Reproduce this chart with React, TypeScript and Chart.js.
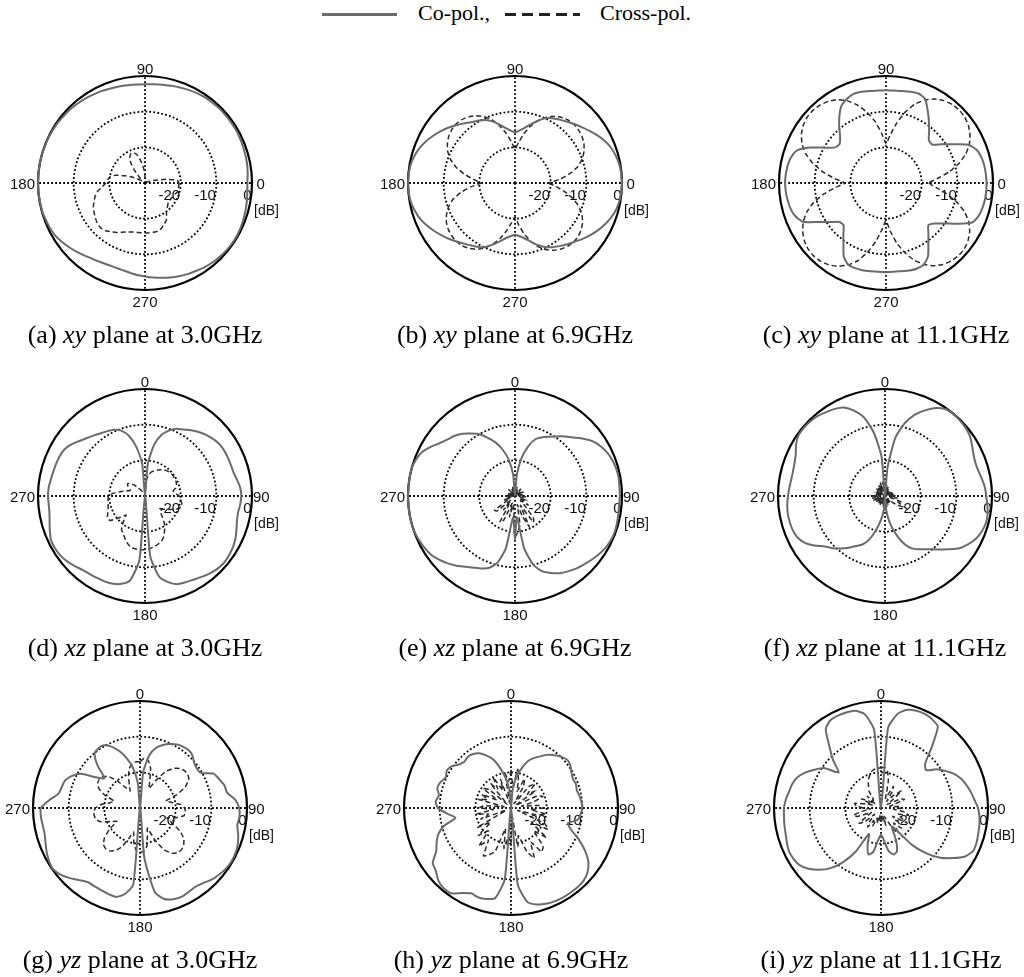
import React, { useEffect, useRef } from "react";
import { Chart, registerables } from "chart.js";

Chart.register(...registerables);

// ---------- categories (angle in degrees, 5 degree steps) ----------
const ANGLES_DEG = [
  0, 5, 10, 15, 20, 25, 30, 35, 40, 45, 50, 55,
  60, 65, 70, 75, 80, 85, 90, 95, 100, 105, 110, 115,
  120, 125, 130, 135, 140, 145, 150, 155, 160, 165, 170, 175,
  180, 185, 190, 195, 200, 205, 210, 215, 220, 225, 230, 235,
  240, 245, 250, 255, 260, 265, 270, 275, 280, 285, 290, 295,
  300, 305, 310, 315, 320, 325, 330, 335, 340, 345, 350, 355,
];

const DB_TICKS = [-20, -10, 0];

// ---------- (a) xy plane 3.0 GHz ----------
const A_CO = [
  -1.3, -1.1, -0.9, -0.8, -0.7, -0.6, -0.5, -0.5, -0.5, -0.5, -0.6, -0.7,
  -0.9, -1.2, -1.5, -1.8, -2.0, -2.2, -2.3, -2.3, -2.2, -2.0, -1.8, -1.5,
  -1.3, -1.0, -0.8, -0.6, -0.5, -0.3, -0.2, -0.1, -0.1, 0, 0, 0,
  0, 0, -0.1, -0.1, -0.3, -0.5, -0.8, -1.4, -2.1, -2.8, -3.5, -4.1,
  -4.5, -4.8, -4.9, -4.8, -4.5, -4.1, -3.8, -3.4, -3.0, -2.6, -2.2, -1.8,
  -1.5, -1.1, -0.8, -0.6, -0.4, -0.3, -0.3, -0.4, -0.6, -0.8, -1.0, -1.2,
];
const A_CX = [
  -20.5, -21, -24, -27, -28.5, -29.5, -29.5, -29.5, -29.5, -29.5, -29.5, -29.5,
  -29.5, -29.5, -29.5, -29.5, -29.5, -29, -28, -26, -24, -22, -21, -20.8,
  -21.5, -23, -25.5, -28, -29, -29, -28, -26, -24, -21.5, -20, -19.5,
  -19, -18, -16.5, -15.5, -14.8, -14, -13.5, -13, -12.5, -12.3, -12.6, -13.3,
  -14, -14.8, -15.4, -15.8, -16, -16, -16, -16, -16, -16, -16.5, -17.3,
  -18, -19.5, -20.5, -21, -21.5, -21.5, -21.5, -21, -21, -20.5, -20.5, -20.5,
];

// ---------- (b) xy plane 6.9 GHz ----------
const B_CO = [
  0, -0.1, -0.3, -0.7, -1.3, -2.2, -3.3, -4.5, -5.6, -6.6, -7.5, -8.3,
  -9.0, -10.0, -11.5, -13.0, -14.3, -15.2, -15.8, -15.2, -14.3, -13.0, -11.6, -10.5,
  -9.8, -9.1, -8.1, -7.0, -5.8, -4.6, -3.5, -2.4, -1.5, -0.8, -0.3, -0.1,
  0, -0.1, -0.3, -0.8, -1.5, -2.4, -3.5, -4.6, -5.7, -6.8, -7.8, -8.6,
  -9.3, -10.2, -11.6, -13.0, -14.2, -15.0, -15.5, -15.0, -14.2, -13.0, -11.5, -10.2,
  -9.2, -8.4, -7.5, -6.6, -5.5, -4.4, -3.3, -2.3, -1.4, -0.7, -0.3, -0.1,
];
const B_CX = [
  -20.5, -17.2, -14.2, -11.6, -9.9, -8.6, -7.7, -7.1, -6.8, -6.7, -6.9, -7.5,
  -8.4, -9.7, -11.4, -13.6, -16.1, -18.6, -20.5, -18.4, -15.9, -13.4, -11.2, -9.5,
  -8.2, -7.3, -6.8, -6.6, -6.8, -7.3, -8.1, -9.2, -10.8, -12.9, -15.5, -18.3,
  -20.5, -17.5, -14.5, -11.9, -10.1, -8.8, -7.8, -7.2, -6.9, -6.8, -7.0, -7.6,
  -8.5, -9.9, -11.7, -13.9, -16.4, -18.8, -20.5, -18.2, -15.6, -13.1, -11.0, -9.4,
  -8.2, -7.4, -6.9, -6.7, -6.8, -7.3, -8.1, -9.3, -11.0, -13.2, -15.8, -18.4,
];

// ---------- (c) xy plane 11.1 GHz ----------
const C_CO = [
  -1.8, -1.9, -2.0, -2.3, -2.9, -4.6, -8.3, -11.1, -13.2, -13.0, -11.2, -9.0,
  -6.6, -4.0, -3.3, -3.5, -3.8, -4.0, -4.0, -4.0, -3.8, -3.5, -3.4, -4.0,
  -5.0, -7.2, -9.6, -11.8, -13.0, -12.6, -10.2, -6.5, -3.4, -2.4, -2.0, -1.8,
  -1.7, -1.8, -2.0, -2.3, -2.9, -4.3, -8.1, -10.9, -13.0, -13.2, -11.4, -9.2,
  -6.3, -4.8, -4.6, -4.7, -4.9, -5.0, -5.0, -5.0, -4.9, -4.6, -4.5, -4.8,
  -6.4, -9.3, -11.5, -13.2, -12.3, -10.2, -7.2, -3.6, -2.5, -2.1, -1.9, -1.8,
];
const C_CX = [
  -18, -15.5, -12, -8.8, -6.2, -4.2, -2.8, -1.8, -1.2, -1.0, -1.2, -1.8, -2.8, -4.3, -6.5, -9.5, -13, -16.5,
  -19, -16, -12.5, -9.5, -6.8, -4.6, -3.0, -2.0, -1.4, -1.1, -1.2, -1.7, -2.6, -4.0, -6.0, -8.8, -12, -15.5,
  -18.5, -15.8, -12.3, -9.0, -6.4, -4.4, -3.0, -2.0, -1.4, -1.2, -1.4, -2.0, -3.0, -4.6, -6.8, -9.8, -13.3, -16.8,
  -19.5, -16.5, -13, -9.8, -7.0, -4.8, -3.2, -2.1, -1.5, -1.2, -1.3, -1.9, -2.9, -4.4, -6.6, -9.5, -12.8, -16,
];

// ---------- (d) xz plane 3.0 GHz ----------
const D_CO = [
  -30, -21, -15.5, -12.3, -10.5, -9.2, -8.5, -7.5, -6.6, -5.8, -5.1, -4.6,
  -4.4, -4.4, -4.4, -4.3, -3.8, -3.2, -3.0, -3.2, -3.5, -3.3, -2.7, -2.0,
  -1.5, -1.2, -1.0, -1.2, -1.7, -2.3, -2.9, -3.3, -3.7, -5, -7, -13,
  -30, -12, -6, -4.5, -3.8, -3.5, -3.4, -3.2, -2.9, -2.2, -1.5, -1.0,
  -0.8, -0.9, -1.6, -2.3, -2.8, -2.9, -2.8, -2.9, -3.2, -3.4, -3.5, -3.6,
  -3.9, -4.8, -6.0, -7.0, -7.8, -8.5, -9.0, -9.5, -10.5, -12.5, -16, -21,
];
const D_CX = [
  -28, -25.5, -24, -23, -22.5, -22, -21.5, -21, -20.7, -20.4, -20.3, -20.3,
  -20.4, -20.4, -20.6, -21, -22, -21.5, -20.3, -20, -19.6, -19.3, -19.8, -21,
  -22.5, -23.5, -24, -24, -22.5, -20.5, -19, -17.5, -16.5, -16, -15.5, -15.2,
  -15, -14.9, -14.9, -15, -15.8, -16.8, -17.8, -18.5, -20.5, -22.5, -20.5, -18,
  -17.8, -18.5, -19, -19.3, -19.5, -19.6, -19.8, -21, -23, -24.5, -25.5, -25.5,
  -24.5, -24, -24.5, -25.5, -27, -28, -28.5, -28.5, -28.5, -28.5, -28.5, -28.5,
];

// ---------- (e) xz plane 6.9 GHz ----------
const E_CO = [
  -30, -24, -19, -15.5, -13, -11.8, -10.8, -9.6, -8.2, -6.8, -5, -3.3,
  -2.2, -1.4, -0.9, -0.6, -0.5, -0.6, -0.6, -0.7, -0.6, -0.4, -0.3, -0.4,
  -0.8, -1.4, -2.1, -2.8, -3.4, -4.2, -5.0, -6.2, -7.5, -10, -15, -24,
  -17.5, -24, -15, -10.5, -8.5, -7.6, -6.8, -5.8, -4.5, -3.3, -2.2, -1.3,
  -0.8, -0.4, -0.1, 0, 0, 0, 0, 0, 0, 0, -0.4, -1.1,
  -2.6, -4.2, -5.3, -6.1, -7.2, -8.6, -10, -12, -14, -16.5, -19.5, -24,
];
const E_CX = [
  -28, -29.5, -28.5, -27.5, -29, -28, -29.5, -28.5, -27.5, -29, -28.5, -29.5,
  -28, -27.5, -29, -28.5, -27.5, -29, -28, -27, -28.5, -27.5, -26.5, -28.5,
  -27, -25.5, -28, -26, -22, -21, -27, -20.5, -24, -27.5, -22, -20,
  -18.5, -26, -27.5, -24, -28, -22.5, -21.5, -27, -25, -28.5, -23.5, -23,
  -27.5, -28.5, -26.5, -29, -28, -29.5, -27.5, -28.5, -29.5, -28, -27.5, -29,
  -28.5, -29.5, -28, -27.5, -29, -28.5, -29.5, -28, -29, -27.5, -28.5, -29.5,
];

// ---------- (f) xz plane 11.1 GHz ----------
const F_CO = [
  -30, -22, -13.5, -9, -5.8, -3.5, -1.5, -0.3, -0.1, -0.2, -0.4, -0.9,
  -1.8, -2.6, -3.0, -2.9, -2.4, -1.9, -1.6, -1.2, -0.8, -0.7, -1.1, -1.8,
  -3.0, -4.5, -6.8, -8.8, -10.5, -11.8, -12.8, -14.2, -16.5, -19.5, -22.5, -26,
  -30, -26, -23, -20, -17, -15, -13.8, -12.3, -10.8, -9.3, -8, -5.8,
  -3.9, -2.8, -2.4, -2.3, -2.3, -2.5, -2.8, -3.1, -3.3, -3.3, -3.0, -2.4,
  -1.2, -0.4, -0.3, -0.4, -0.7, -1.3, -1.8, -2.6, -4.5, -7.2, -12, -19,
];
const F_CX = [
  -26.5, -29, -27, -29.5, -27.5, -29.5, -28, -29.5, -28, -29.5, -28.5, -29.5,
  -28, -29.5, -27.5, -29, -27.5, -29, -27, -28.5, -26.5, -28.5, -25, -26,
  -23, -25.5, -27, -29, -27.5, -29.5, -28, -29, -27.5, -29, -27, -28.5,
  -26, -29, -27, -29, -27.5, -29.5, -27, -29, -27.5, -29.5, -27.5, -29,
  -27, -29, -26.5, -28.5, -26.5, -28, -26, -28.5, -27, -29, -27, -29,
  -27.5, -29.5, -27, -29, -27, -29, -26.5, -28.5, -26, -28.5, -26, -28.5,
];

// ---------- (g) yz plane 3.0 GHz ----------
const G_CO = [
  -30, -20, -15, -12.5, -11.2, -10.2, -9.4, -9.0, -8.8, -9.2, -10.2, -10.6,
  -10.3, -7.2, -6.4, -5.5, -5.2, -3.2, -2.2, -2.0, -2.3, -1.5, -0.8, -0.4,
  -0.3, -0.5, -1.0, -1.6, -2.5, -3.0, -2.8, -2.5, -2.8, -3.6, -6, -16,
  -30, -8.5, -5.5, -4.2, -4.3, -4.5, -4.6, -4.6, -3.6, -2.2, -0.9, -0.2,
  -0.5, -1.1, -1.8, -2.3, -2.3, -2.1, -2.2, -4.5, -6.8, -7.3, -7.6, -8.8,
  -10.8, -15, -17, -13.2, -10.2, -9.6, -9.7, -11, -13, -15.5, -18.5, -23,
];
const G_CX = [
  -17, -16, -16.5, -18.5, -22, -24, -21, -17.5, -15.5, -14.3, -13.7, -13.6,
  -14.2, -16, -19, -22.5, -21, -18.5, -17.5, -17.2, -17.5, -19.5, -22, -20,
  -17, -15, -14, -13.5, -13.6, -14.5, -16.5, -20, -24, -22, -19, -17.8,
  -17.5, -18, -20, -23, -21, -18, -16.2, -15.3, -15.1, -15.5, -17, -19.5,
  -22.5, -21, -18.5, -17.3, -17, -17, -17.5, -19, -21.5, -22.5, -19.5, -17.3,
  -16.3, -16, -16.3, -17.5, -20, -23, -24.5, -23, -20.5, -18.5, -17.5, -17,
];

// ---------- (h) yz plane 6.9 GHz ----------
const H_CO = [
  -30, -25, -21, -18.5, -16, -14.5, -13.2, -11.8, -10.7, -9.8, -9.2, -9.6,
  -10.4, -10.8, -10.6, -10.9, -10.5, -10.2, -10.0, -10.4, -11.0, -13.5, -12.0, -9.0,
  -6.0, -3.5, -2.0, -1.2, -1.0, -1.0, -1.0, -1.1, -1.4, -2.0, -3.2, -8.5,
  -30, -10, -4.3, -3.6, -3.3, -3.6, -2.5, -0.8, -0.6, -1.2, -2.5, -3.2,
  -5.8, -7, -8.3, -10.5, -14.2, -12, -9.5, -8.8, -9.5, -8.6, -8.9, -9.8,
  -9.2, -9.6, -11, -11.6, -11.2, -11.5, -12.3, -13.8, -15.5, -18.5, -21.5, -25,
];
const H_CX = [
  -19.5, -24, -19, -22, -25, -21, -23, -28.5, -22, -20.5, -24, -21.5,
  -28.5, -22, -20.5, -23.5, -27, -22, -21, -24.5, -20, -22.5, -28, -19.5,
  -18, -23, -17, -21, -16, -15, -19, -14.5, -17, -22, -19, -28.5,
  -20, -22, -18.5, -24, -17, -15.5, -14.5, -19, -16, -21, -18, -23,
  -19, -28.5, -21, -23.5, -20, -25, -21, -22.5, -28, -20.5, -23, -21,
  -25.5, -20.5, -22, -28.5, -21, -23.5, -20, -24.5, -21.5, -28.5, -20, -22.5,
];

// ---------- (i) yz plane 11.1 GHz ----------
const I_CO = [
  -30, -7.5, -3.2, -1.5, -1.0, -0.9, -1.3, -2.2, -8, -12.5, -13.5, -11,
  -9.2, -7.4, -6.1, -5.2, -4.4, -3.7, -2.8, -2.3, -2.0, -1.8, -1.5, -1.5,
  -2.8, -5.5, -8.3, -12, -16.5, -22.5, -24, -20, -17, -16.5, -17.8, -21,
  -22.5, -21, -17.5, -16.5, -19, -22, -16, -11.5, -8, -5.5, -3.5, -2.1,
  -1.6, -1.5, -1.9, -2.3, -2.5, -2.7, -2.8, -3.2, -3.8, -4.2, -5, -6.5,
  -8.5, -10.5, -14.5, -11, -7.5, -3, -1.6, -1.4, -1.5, -1.8, -3.2, -8,
];
const I_CX = [
  -18.8, -18.5, -19.5, -22, -25.5, -27, -23, -24.5, -27.5, -25, -22.5, -26,
  -28, -24, -23, -26.5, -27.5, -25, -24, -26.5, -23, -22, -25, -24,
  -21.5, -26, -23.5, -22, -24.5, -21.5, -23, -26.5, -27.5, -25, -28, -26.5,
  -27.5, -26, -28, -25.5, -27, -24.5, -26, -23.5, -25, -27.5, -24, -22.5,
  -25.5, -27, -23, -22, -24.5, -27, -25, -23, -22.5, -25.5, -27.5, -24,
  -26, -28, -25, -27, -26.5, -24, -23, -21.5, -20.5, -19.5, -19, -18.8,
];

const TAGS = ["a", "b", "c", "d", "e", "f", "g", "h", "i"];
const PLANES = ["xy", "xy", "xy", "xz", "xz", "xz", "yz", "yz", "yz"];
const FREQS = ["3.0GHz", "6.9GHz", "11.1GHz", "3.0GHz", "6.9GHz", "11.1GHz", "3.0GHz", "6.9GHz", "11.1GHz"];
const CO_SERIES = [A_CO, B_CO, C_CO, D_CO, E_CO, F_CO, G_CO, H_CO, I_CO];
const CROSS_SERIES = [A_CX, B_CX, C_CX, D_CX, E_CX, F_CX, G_CX, H_CX, I_CX];

// ---------- layout (kept apart from data) ----------
const CENTERS = [
  [145, 183], [515, 183], [886, 183],
  [145, 496], [515, 496], [885, 496],
  [140, 808], [511, 808], [881, 808],
];
const CANVAS_W = 300;
const CANVAS_H = 290;
const OFF_X = 150;
const OFF_Y = 145;

const labelPlugin = {
  id: "polarLabels",
  beforeDatasetsDraw(chart: any, _args: any, opts: any) {
    const s = chart.scales.r;
    const ctx = chart.ctx;
    const x0 = s.xCenter;
    const y0 = s.yCenter;
    const R = s.drawingArea;
    const [top, right, bottom, left] = opts.labels;
    ctx.save();
    ctx.fillStyle = "#111";
    ctx.font = '15px "Liberation Sans", Arial, Helvetica, sans-serif';
    ctx.textBaseline = "alphabetic";
    ctx.textAlign = "center";
    ctx.fillText(top, x0, y0 - R - 2.5);
    ctx.fillText(bottom, x0, y0 + R + 17);
    ctx.textAlign = "right";
    ctx.fillText(left, x0 - R - 3, y0 + 5.5);
    ctx.textAlign = "left";
    ctx.fillText(right, x0 + R + opts.rightGap, y0 + 5.5);
    ctx.textAlign = "right";
    DB_TICKS.forEach((v) => {
      ctx.fillText(String(v), x0 + s.getDistanceFromCenterForValue(v) - 0.5, y0 + 16.5);
    });
    ctx.textAlign = "left";
    ctx.font = '14px "Liberation Sans", Arial, Helvetica, sans-serif';
    ctx.fillText("[dB]", x0 + R + 2, y0 + 32);
    ctx.restore();
  },
};

function PolarPlot({ idx }: { idx: number }) {
  const ref = useRef<HTMLCanvasElement>(null);
  const plane = PLANES[idx];
  const [cx, cy] = CENTERS[idx];

  useEffect(() => {
    const isXY = plane === "xy";
    // xy plane: angle counter-clockwise from the right; radar runs clockwise
    const order = (arr: number[]) =>
      isXY ? arr.map((_, i) => arr[(arr.length - i) % arr.length]) : arr;
    const labels = order(ANGLES_DEG).map((a) => String(a));
    const chart = new Chart(ref.current as HTMLCanvasElement, {
      type: "radar",
      data: {
        labels,
        datasets: [
          {
            label: "Co-pol.",
            data: order(CO_SERIES[idx]),
            borderColor: "#6b6b6b",
            borderWidth: 2,
            fill: false,
            pointRadius: 0,
            tension: 0.2,
          },
          {
            label: "Cross-pol.",
            data: order(CROSS_SERIES[idx]),
            borderColor: "#2a2a2a",
            borderWidth: 1.5,
            borderDash: [5, 3],
            fill: false,
            pointRadius: 0,
            tension: 0.1,
          },
        ],
      },
      options: {
        animation: false,
        responsive: false,
        devicePixelRatio: 1,
        events: [],
        layout: { padding: { left: 43, right: 43, top: 38, bottom: 38 } },
        plugins: {
          legend: { display: false },
          tooltip: { enabled: false },
          polarLabels: {
            labels: isXY ? ["90", "0", "270", "180"] : ["0", "90", "180", "270"],
            rightGap: isXY ? 4.5 : 1,
          },
        } as any,
        scales: {
          r: {
            min: -30,
            max: 0,
            startAngle: isXY ? 90 : 0,
            ticks: { display: false, stepSize: 10 },
            pointLabels: { display: false },
            grid: {
              circular: true,
              color: "#000",
              lineWidth: (c: any) =>
                c.tick && c.tick.value === 0 ? 2.2 : c.tick && c.tick.value === -30 ? 0 : 1.8,
            },
            border: {
              dash: (c: any) => (c.tick && c.tick.value === 0 ? [] : [1.8, 2.2]),
            },
            angleLines: {
              color: "#000",
              lineWidth: (c: any) => (c.index % 18 === 0 ? 1.8 : 0),
              borderDash: [1.8, 2.2],
            },
          } as any,
        },
      },
      plugins: [labelPlugin as any],
    });
    return () => chart.destroy();
  }, []);

  return (
    <>
      <canvas
        ref={ref}
        width={CANVAS_W}
        height={CANVAS_H}
        style={{
          position: "absolute",
          left: cx - OFF_X,
          top: cy - OFF_Y,
          width: CANVAS_W,
          height: CANVAS_H,
        }}
      />
      <div
        style={{
          position: "absolute",
          left: cx - 200,
          width: 400,
          top: cy + 139,
          textAlign: "center",
          font: '26px "Liberation Serif", "Times New Roman", serif',
          lineHeight: "26px",
          color: "#000",
          whiteSpace: "nowrap",
        }}
      >
        ({TAGS[idx]}) <i>{plane}</i> plane at {FREQS[idx]}
      </div>
    </>
  );
}

export default function App() {
  const legendFont = '22px "Liberation Serif", "Times New Roman", serif';
  return (
    <div
      style={{
        position: "absolute",
        left: 0,
        top: 0,
        width: 1024,
        height: 977,
        background: "#fff",
        overflow: "hidden",
      }}
    >
      <div style={{ position: "absolute", left: 322, top: 12.5, width: 75, height: 3, background: "#6b6b6b" }} />
      <div style={{ position: "absolute", left: 418, top: 2, font: legendFont, lineHeight: "22px", whiteSpace: "nowrap", color: "#000" }}>
        Co-pol.,
      </div>
      <div
        style={{
          position: "absolute",
          left: 505,
          top: 12.5,
          width: 75,
          height: 3,
          background: "repeating-linear-gradient(to right, #222 0px, #222 11px, transparent 11px, transparent 17px)",
        }}
      />
      <div style={{ position: "absolute", left: 600, top: 2, font: legendFont, lineHeight: "22px", whiteSpace: "nowrap", color: "#000" }}>
        Cross-pol.
      </div>
      {TAGS.map((t, i) => (
        <PolarPlot key={t} idx={i} />
      ))}
    </div>
  );
}
